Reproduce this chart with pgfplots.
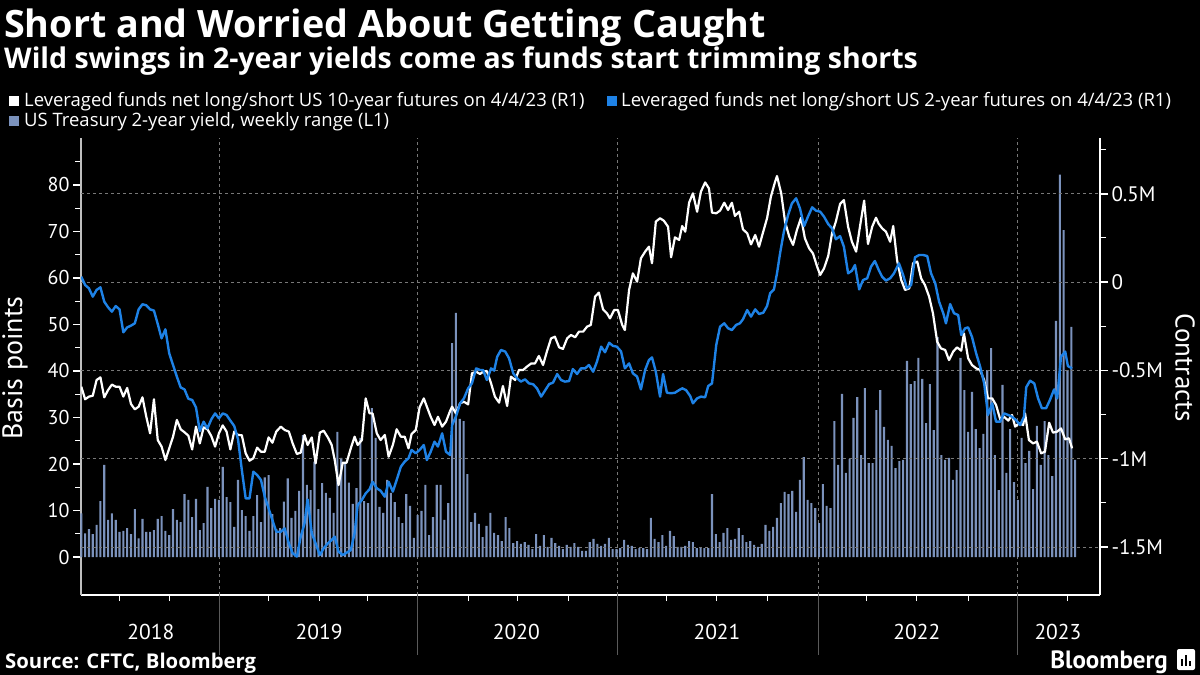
\documentclass[border=0pt]{standalone}
\usepackage{pgfplots}
\pgfplotsset{compat=1.18}
\usepackage{pgfplotstable}
\usepackage{fontspec}
\setmainfont{PT Sans}
\newfontfamily\headfont{Open Sans}

\definecolor{barblue}{RGB}{123,146,188}
\definecolor{lineblue}{RGB}{30,130,230}
\definecolor{gridgray}{RGB}{120,120,120}
\definecolor{sepgray}{RGB}{90,90,90}

% US 2y yield, weekly range in bp, one row per week (Apr 2018 - Apr 2023)
\pgfplotstableread{
v
9.4
5.1
6.0
4.9
6.9
12.0
19.8
8.0
9.4
8.0
5.4
5.6
6.2
4.9
10.3
4.0
8.2
5.4
5.4
5.8
8.2
8.8
5.6
4.7
10.3
8.0
7.5
13.5
12.3
8.6
12.5
5.8
7.3
15.1
10.5
12.5
12.3
19.4
12.9
11.8
6.5
16.6
10.1
8.8
5.6
8.8
13.3
7.5
17.1
17.6
9.2
6.0
6.2
11.9
16.9
8.4
9.9
14.2
26.2
15.5
14.4
20.5
10.3
15.9
13.8
12.7
9.5
26.9
21.3
20.4
16.0
11.4
14.8
25.6
12.0
11.6
32.0
25.6
10.8
9.5
16.6
13.8
11.8
8.6
7.3
13.5
11.0
4.1
9.0
9.9
15.5
4.7
8.6
15.5
15.5
8.0
11.6
46.0
52.5
29.7
29.2
17.8
7.5
9.5
7.1
4.3
6.7
9.5
5.2
4.7
3.4
8.6
6.2
3.0
3.4
2.8
3.2
2.6
1.7
4.9
2.4
4.7
2.2
4.1
3.0
2.4
1.7
2.6
2.2
3.0
2.2
1.3
1.3
3.2
3.9
2.8
2.4
2.8
4.1
1.7
1.7
1.9
3.7
2.6
2.4
1.7
1.9
1.9
1.7
8.4
3.9
3.2
4.7
2.4
5.6
4.5
2.2
2.2
2.4
3.4
3.2
1.9
1.9
1.9
1.9
13.5
4.9
3.2
5.2
6.2
3.7
3.9
6.2
4.7
3.2
3.4
2.6
2.2
2.8
6.9
5.6
6.5
8.4
11.6
14.0
13.5
14.2
9.7
16.6
21.5
12.3
11.6
10.5
7.3
15.7
11.0
10.5
29.2
19.8
35.1
18.1
21.1
29.9
34.4
21.9
36.3
20.2
20.2
31.6
35.9
28.0
25.2
23.9
19.1
20.6
20.9
42.2
37.2
37.8
42.8
38.3
28.8
37.2
27.3
47.3
21.9
20.9
21.3
16.6
18.7
42.8
35.9
26.9
35.5
27.5
23.4
26.5
40.2
44.9
21.9
14.4
37.0
18.1
27.5
16.1
12.3
25.6
20.2
22.8
14.6
28.2
19.8
29.2
21.9
17.4
50.8
82.2
70.3
40.2
49.5
20.9
}\rangetab

% leveraged funds net long/short, US 10y futures, million contracts (x = week)
\pgfplotstableread{
x y
0 -0.593
1 -0.664
2 -0.649
3 -0.644
4 -0.555
5 -0.540
6 -0.653
7 -0.612
8 -0.581
9 -0.593
10 -0.593
11 -0.649
12 -0.600
13 -0.691
14 -0.721
15 -0.706
16 -0.653
17 -0.763
18 -0.857
19 -0.664
20 -0.895
21 -0.932
22 -1.008
23 -0.942
24 -0.876
25 -0.781
26 -0.834
27 -0.851
28 -0.870
29 -0.948
30 -0.819
31 -0.914
32 -0.823
33 -0.834
34 -0.872
35 -0.932
36 -0.857
37 -0.812
38 -0.847
39 -0.948
40 -0.847
41 -0.866
42 -0.868
43 -0.970
44 -1.012
45 -0.998
46 -0.938
47 -0.961
48 -0.961
49 -0.880
50 -0.910
51 -0.847
52.2 -0.819
53.2 -0.838
54.3 -0.847
55.3 -0.914
56.4 -0.974
57.4 -0.966
58.4 -0.866
59.2 -0.923
60.3 -0.880
61.3 -1.027
62.4 -0.853
63.4 -0.842
64.5 -0.880
65.5 -0.923
66.3 -1.008
67.3 -1.150
68.4 -1.023
69.4 -1.023
70.5 -0.942
71.5 -0.876
72.3 -0.923
73.4 -0.895
74.4 -0.659
75.4 -0.744
76.2 -0.744
77.3 -0.857
78.3 -0.895
79.4 -0.866
80.4 -0.989
81.5 -0.923
82.5 -0.834
83.6 -0.876
84.6 -0.876
85.6 -0.942
86.4 -0.861
87.5 -0.838
88.5 -0.710
89.6 -0.659
90.4 -0.706
91.4 -0.763
92.4 -0.810
93.3 -0.763
94.4 -0.819
95.4 -0.791
96.5 -0.729
97.0 -0.706
98.0 -0.744
99.1 -0.687
100.1 -0.678
101.2 -0.693
102.2 -0.517
103.3 -0.508
104.3 -0.521
105.1 -0.508
106.1 -0.504
107.2 -0.574
108.2 -0.649
109.3 -0.683
110.3 -0.589
111.4 -0.702
112.4 -0.536
113.5 -0.555
114.5 -0.498
115.6 -0.498
116.6 -0.479
117.7 -0.461
118.7 -0.461
119.7 -0.419
120.8 -0.470
121.8 -0.394
122.9 -0.319
123.9 -0.310
125.0 -0.370
126.0 -0.379
127.1 -0.319
128.1 -0.300
129.2 -0.313
130.2 -0.281
131.3 -0.281
132.3 -0.253
133.3 -0.243
134.4 -0.083
135.4 -0.060
136.5 -0.155
137.5 -0.177
138.3 -0.206
139.4 -0.159
140.4 -0.159
141.5 -0.243
142.2 -0.272
143.3 -0.045
144.3 0.049
145.4 0.002
146.4 0.134
147.5 0.172
148.5 0.200
149.3 0.106
150.3 0.342
151.4 0.361
152.4 0.347
153.5 0.313
154.3 0.140
155.3 0.253
156.4 0.238
157.2 0.317
158.0 0.285
159.0 0.449
160.0 0.502
161.1 0.398
162.1 0.512
163.2 0.564
164.2 0.530
165.0 0.393
166.1 0.389
167.1 0.404
168.2 0.449
169.2 0.408
170.2 0.449
171.0 0.374
172.1 0.398
173.1 0.298
174.2 0.276
175.2 0.213
176.3 0.266
177.3 0.200
178.4 0.285
179.4 0.361
180.4 0.483
181.5 0.568
182.0 0.600
183.1 0.502
184.1 0.342
185.2 0.257
186.2 0.210
187.2 0.294
188.3 0.364
189.3 0.247
190.4 0.191
191.4 0.162
192.5 0.087
193.3 0.040
194.3 0.077
195.4 0.147
196.4 0.276
197.4 0.342
198.5 0.442
199.5 0.464
200.6 0.313
201.6 0.228
202.7 0.172
203.7 0.313
204.8 0.461
205.8 0.215
206.9 0.313
207.9 0.364
208.6 0.330
209.5 0.304
210.5 0.285
211.6 0.228
212.4 0.317
213.4 0.125
214.5 0.011
215.5 -0.045
216.6 -0.036
217.6 0.106
218.7 0.115
219.7 0.021
220.7 -0.017
221.8 -0.083
222.8 -0.177
223.9 -0.338
224.9 -0.376
226.0 -0.385
227.0 -0.442
228.1 -0.394
229.1 -0.370
230.2 -0.389
230.9 -0.291
232.0 -0.432
233.0 -0.470
234.1 -0.489
235.1 -0.498
236.2 -0.555
237.2 -0.659
238.3 -0.659
239.3 -0.696
240.4 -0.778
241.4 -0.763
242.5 -0.785
243.5 -0.753
244.3 -0.819
245.3 -0.800
246.4 -0.810
246.9 -0.744
247.9 -0.895
249.0 -0.914
250.0 -0.904
251.1 -0.970
252.1 -0.961
253.2 -0.797
254.2 -0.853
255.3 -0.847
256.3 -0.829
257.4 -0.891
258.4 -0.885
259.2 -0.942
}\tenyr

% leveraged funds net long/short, US 2y futures, million contracts
\pgfplotstableread{
x y
0 0.030
1 -0.017
2 -0.036
3 -0.083
4 -0.045
5 -0.030
6 -0.111
7 -0.143
8 -0.168
9 -0.136
10 -0.155
11 -0.285
12 -0.257
13 -0.247
14 -0.234
15 -0.155
16 -0.126
17 -0.132
18 -0.155
19 -0.162
20 -0.238
21 -0.319
22 -0.268
23 -0.404
24 -0.470
25 -0.536
26 -0.597
27 -0.608
28 -0.661
29 -0.668
30 -0.710
31 -0.844
32 -0.791
33 -0.829
34 -0.778
35 -0.744
36 -0.772
37 -0.744
38 -0.753
39 -0.785
40 -0.815
41 -0.891
42 -1.065
43 -1.225
44 -1.225
45 -1.074
46 -1.093
47 -1.121
48 -1.216
49 -1.282
50 -1.348
51 -1.414
52.2 -1.414
53.2 -1.395
54.3 -1.480
55.3 -1.536
56.4 -1.555
57.4 -1.442
58.4 -1.367
59.2 -1.231
60.3 -1.423
61.3 -1.480
62.4 -1.546
63.4 -1.508
64.5 -1.480
65.5 -1.461
66.3 -1.442
67.3 -1.527
68.4 -1.546
69.4 -1.533
70.5 -1.518
71.5 -1.423
72.3 -1.263
73.4 -1.234
74.4 -1.197
75.4 -1.174
76.2 -1.131
77.3 -1.168
78.3 -1.182
79.4 -1.216
80.4 -1.131
81.5 -1.187
82.5 -1.121
83.6 -1.046
84.6 -1.017
85.6 -0.998
86.4 -0.951
87.5 -0.970
88.5 -0.951
89.6 -0.923
90.4 -1.008
91.4 -0.961
92.4 -0.904
93.3 -0.932
94.4 -0.857
95.4 -0.961
96.5 -0.980
97.0 -0.810
98.0 -0.763
99.1 -0.687
100.1 -0.659
101.2 -0.602
102.2 -0.574
103.3 -0.489
104.3 -0.498
105.1 -0.498
106.1 -0.555
107.2 -0.489
108.0 -0.502
108.8 -0.423
109.8 -0.385
110.9 -0.394
111.9 -0.432
113.0 -0.517
114.0 -0.545
115.0 -0.564
116.1 -0.551
117.1 -0.574
118.2 -0.579
119.2 -0.602
120.3 -0.649
121.3 -0.615
122.4 -0.578
123.4 -0.570
124.5 -0.521
125.5 -0.555
126.5 -0.564
127.6 -0.561
128.6 -0.493
129.7 -0.521
130.7 -0.489
131.8 -0.489
132.8 -0.470
133.9 -0.508
134.9 -0.451
136.0 -0.366
137.0 -0.398
138.1 -0.344
139.1 -0.362
140.1 -0.366
141.2 -0.393
142.2 -0.489
143.3 -0.461
144.3 -0.517
145.4 -0.536
146.4 -0.608
147.5 -0.498
148.5 -0.442
149.3 -0.427
150.3 -0.508
151.4 -0.649
152.2 -0.521
153.2 -0.627
154.3 -0.630
155.3 -0.627
156.4 -0.612
157.2 -0.602
158.2 -0.612
159.3 -0.646
160.0 -0.687
161.1 -0.659
162.1 -0.649
163.2 -0.653
164.0 -0.589
165.0 -0.574
166.1 -0.357
167.1 -0.253
168.2 -0.234
169.2 -0.262
170.2 -0.272
171.3 -0.243
172.3 -0.234
173.1 -0.211
174.2 -0.159
175.2 -0.196
176.3 -0.155
177.3 -0.181
178.4 -0.174
179.4 -0.136
180.2 -0.064
181.2 -0.042
182.0 0.049
182.8 0.162
183.8 0.285
184.9 0.379
185.9 0.445
187.0 0.474
188.0 0.417
189.1 0.317
190.1 0.370
191.2 0.423
192.2 0.404
193.3 0.398
194.3 0.370
195.4 0.328
196.4 0.304
197.4 0.242
198.5 0.260
199.5 0.200
200.6 0.049
201.6 0.064
202.4 0.096
203.5 -0.042
204.5 0.011
205.6 0.021
206.6 0.087
207.6 0.119
208.7 0.064
209.5 0.030
210.5 0.008
211.6 0.021
212.6 0.049
213.9 0.106
215.0 0.040
216.0 -0.036
217.1 -0.017
218.1 0.140
219.2 0.153
220.2 0.153
221.3 0.147
222.3 0.049
223.4 -0.008
224.4 -0.111
225.5 -0.177
226.2 -0.234
227.3 -0.125
228.3 -0.177
229.4 -0.187
230.2 -0.300
231.2 -0.262
232.0 -0.257
233.0 -0.310
234.1 -0.404
235.1 -0.476
236.2 -0.574
237.2 -0.753
238.3 -0.687
239.3 -0.791
240.4 -0.791
241.4 -0.744
242.5 -0.753
243.5 -0.763
244.5 -0.781
245.6 -0.810
246.6 -0.763
247.2 -0.596
248.2 -0.559
249.3 -0.574
250.3 -0.659
251.3 -0.715
252.4 -0.715
253.4 -0.668
254.5 -0.608
255.3 -0.659
256.3 -0.423
257.4 -0.394
258.1 -0.476
259.2 -0.489
}\twoyr

\newcommand{\fs}[1]{\fontsize{#1}{#1}\selectfont}

\begin{document}
\begin{tikzpicture}[x=1pt,y=1pt]
\fill[black] (0,0) rectangle (1200,-675);
\useasboundingbox (0,0) rectangle (1200,-675);

% titles
\node[anchor=base west, inner sep=0, text=white, font=\headfont\fs{37.7}\bfseries] at (4,-37) {Short and Worried About Getting Caught};
\node[anchor=base west, inner sep=0, text=white, font=\headfont\fs{28.5}\bfseries] at (4,-68) {Wild swings in 2-year yields come as funds start trimming shorts};

% legend
\fill[white] (9,-96) rectangle (19,-106);
\node[anchor=base west, inner sep=0, text=white, font=\headfont\fs{18.5}] at (24,-106) {Leveraged funds net long/short US 10-year futures on 4/4/23 (R1)};
\fill[lineblue] (607,-96) rectangle (617,-106);
\node[anchor=base west, inner sep=0, text=white, font=\headfont\fs{18.5}] at (621,-106) {Leveraged funds net long/short US 2-year futures on 4/4/23 (R1)};
\fill[barblue] (9,-116) rectangle (19,-126);
\node[anchor=base west, inner sep=0, text=white, font=\headfont\fs{18.5}] at (24,-126) {US Treasury 2-year yield, weekly range (L1)};

% left axis: weekly range (bars)
\begin{axis}[
  at={(81pt,-595pt)}, anchor=south west,
  width=1019pt, height=457pt, scale only axis,
  clip=false,
  xmin=-0.08, xmax=266.5,
  ymin=-8.17, ymax=90.1,
  axis x line*=bottom, axis y line*=left,
  x axis line style={-, white, line width=1.4pt},
  y axis line style={-, white!75!black, line width=1.2pt},
  tick align=outside,
  major tick length=8pt, minor tick length=6pt,
  ytick={0,10,...,80},
  minor ytick={5,15,...,85},
  xtick={18.2,62.2,113.8,166.3,218.6,255.5},
  xticklabels={2018,2019,2020,2021,2022,2023},
  minor xtick={10.1,23.2,49.1,75.0,101.2,114.0,127.4,153.0,179.4,205.3,232.0,257.9,62.2,166.3,218.6},
  every major x tick/.append style={draw=none},
  every minor tick/.append style={white, line width=1pt},
  every major y tick/.append style={white, line width=1.6pt},
  extra x ticks={36.19,88.04,140.3,192.9,245.0},
  extra x tick labels={},
  extra x tick style={grid=major},
  major grid style={gridgray, line width=0.8pt, dash pattern=on 3pt off 3pt},
  tick label style={text=white, font=\fs{20}},
  xticklabel style={font=\fs{21.5}, yshift=-18pt},
  /pgf/number format/assume math mode=true,
]
\addplot[ybar, bar width=0.55, fill=barblue, draw=none]
  table[x expr=\coordindex, y index=0] {\rangetab};
% year separators below the axis
\foreach \yr in {36.19,88.04,140.3,192.9,245.0}{
  \edef\tmp{\noexpand\draw[sepgray, line width=1pt] (axis cs:\yr,-8.17) -- ++(0pt,-60pt);}\tmp
}
\end{axis}

% right axis: positioning (lines)
\begin{axis}[
  at={(81pt,-595pt)}, anchor=south west,
  width=1019pt, height=457pt, scale only axis,
  xmin=-0.08, xmax=266.5,
  ymin=-1.7724, ymax=0.8154,
  axis x line=none, axis y line*=right,
  y axis line style={-, white, line width=1.4pt},
  tick align=outside,
  major tick length=8pt, minor tick length=6pt,
  ytick={-1.5,-1,-0.5,0,0.5},
  yticklabels={-1.5M,-1M,-0.5M,0,0.5M},
  minor ytick={-1.25,-0.75,-0.25,0.25,0.75},
  every minor tick/.append style={white, line width=1pt},
  every major tick/.append style={white, line width=1.6pt},
  ymajorgrids,
  major grid style={gridgray, line width=0.8pt, dash pattern=on 3pt off 3pt},
  tick label style={text=white, font=\fs{21}},
]
\addplot[white, line width=2.2pt, line join=round] table[x=x, y=y] {\tenyr};
\addplot[lineblue, line width=2.4pt, line join=round] table[x=x, y=y] {\twoyr};
\end{axis}

% axis titles
\node[rotate=90, text=white, font=\fs{28}] at (15,-368) {Basis points};
\node[rotate=-90, text=white, font=\fs{27}] at (1185,-368) {Contracts};

% footer
\node[anchor=base west, inner sep=0, text=white, font=\headfont\fs{20.3}\bfseries] at (5,-668) {Source: CFTC, Bloomberg};
\node[anchor=base east, inner sep=0, text=white, font=\fs{25}\bfseries] at (1168,-668) {Bloomberg};
\fill[white, rounded corners=2pt] (1177,-649) rectangle (1195,-670);
\fill[black] (1181,-666) rectangle (1183,-659);
\fill[black] (1185,-666) rectangle (1187,-655);
\fill[black] (1189,-666) rectangle (1191,-661);
\end{tikzpicture}
\end{document}
